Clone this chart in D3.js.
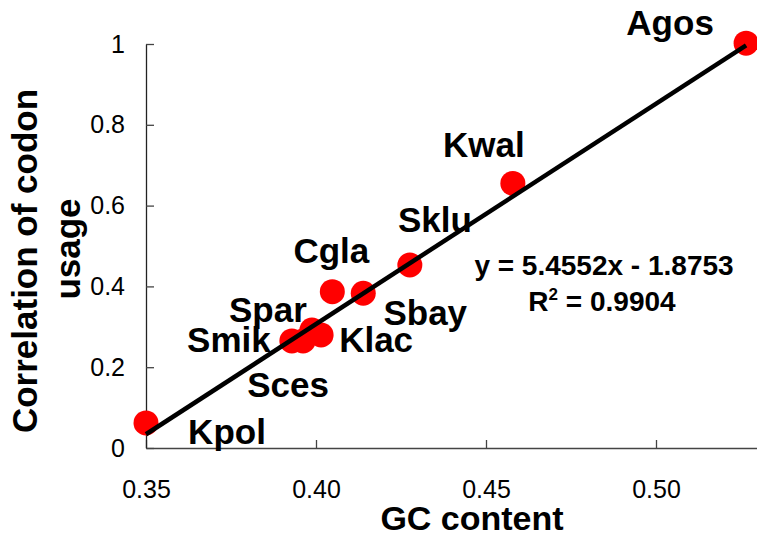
<!DOCTYPE html>
<html>

<head>
  <meta charset="utf-8">
  <title>GC content vs codon usage</title>
  <script src="https://d3js.org/d3.v7.min.js"></script>
  <style>
    body { margin: 0; background: #fff; }
    text { font-family: "Liberation Sans", Arial, sans-serif; }
  </style>
</head>

<body>
  <div id='view'></div>
  <script>
    var width = 757;
    var height = 537;

    // species and values
    var species = ["Agos", "Kwal", "Sklu", "Cgla", "Sbay", "Spar", "Smik", "Klac", "Sces", "Kpol"];
    var gcContent = [0.5265, 0.4579, 0.4276, 0.4048, 0.4139, 0.3988, 0.3929, 0.4015, 0.3962, 0.3500];
    var codonCorr = [1.002, 0.655, 0.453, 0.387, 0.383, 0.292, 0.265, 0.280, 0.265, 0.062];

    var xTicks = [0.35, 0.40, 0.45, 0.50];
    var yTicks = [0, 0.2, 0.4, 0.6, 0.8, 1];

    var slope = 5.4552;
    var intercept = -1.8753;
    var rSquared = "0.9904";

    // label placement relative to each point (pixels)
    var labelDx = [-76, -29, 25, -1, 62, -44, -63, 55, -15, 81];
    var labelDy = [-8, -26, -33, -29, 32, -8, 11, 17, 56, 21];

    var svg = d3.select("#view")
      .append("svg")
      .attr("width", width)
      .attr("height", height);

    var x = d3.scaleLinear().domain([0.35, 0.53]).range([146, 758]);
    var y = d3.scaleLinear().domain([0, 1]).range([448, 44]);

    var xAxis = svg.append("g")
      .attr("transform", "translate(0," + y(0) + ")")
      .call(d3.axisBottom(x).tickValues(xTicks).tickFormat(d3.format(".2f"))
        .tickSizeInner(-8).tickSizeOuter(0).tickPadding(32));
    xAxis.select(".domain").attr("stroke", "#444").attr("stroke-width", 1.3);
    xAxis.selectAll(".tick line").attr("stroke", "#444").attr("stroke-width", 1.3);
    xAxis.selectAll("text").attr("font-size", 25).attr("fill", "#000")
      .style("font-family", "'Liberation Sans', Arial, sans-serif");

    var yAxis = svg.append("g")
      .attr("transform", "translate(" + x(0.35) + ",0)")
      .call(d3.axisLeft(y).tickValues(yTicks).tickFormat(d3.format("~g"))
        .tickSizeInner(-8).tickSizeOuter(0).tickPadding(21));
    yAxis.select(".domain").attr("stroke", "#222").attr("stroke-width", 1.3);
    yAxis.selectAll(".tick line").attr("stroke", "#444").attr("stroke-width", 1.3);
    yAxis.selectAll("text").attr("font-size", 25).attr("fill", "#000")
      .style("font-family", "'Liberation Sans', Arial, sans-serif");

    // points
    svg.selectAll("circle.pt")
      .data(species)
      .enter()
      .append("circle")
      .attr("class", "pt")
      .attr("cx", function (d, i) { return x(gcContent[i]); })
      .attr("cy", function (d, i) { return y(codonCorr[i]); })
      .attr("r", 12.5)
      .attr("fill", "#ff0000");

    // linear trendline over the data range
    var xr = d3.extent(gcContent);
    svg.append("line")
      .attr("x1", x(xr[0]))
      .attr("y1", y(slope * xr[0] + intercept))
      .attr("x2", x(xr[1]))
      .attr("y2", y(slope * xr[1] + intercept))
      .attr("stroke", "#000")
      .attr("stroke-width", 4.5);

    // species labels
    svg.selectAll("text.lab")
      .data(species)
      .enter()
      .append("text")
      .attr("class", "lab")
      .attr("x", function (d, i) { return x(gcContent[i]) + labelDx[i]; })
      .attr("y", function (d, i) { return y(codonCorr[i]) + labelDy[i]; })
      .attr("text-anchor", "middle")
      .attr("font-size", 35)
      .attr("font-weight", "bold")
      .text(function (d) { return d; });

    // equation
    svg.append("text")
      .attr("x", 604).attr("y", 275)
      .attr("text-anchor", "middle")
      .attr("font-size", 28).attr("font-weight", "bold")
      .text("y = " + slope + "x - " + Math.abs(intercept));
    var r2 = svg.append("text")
      .attr("x", 602).attr("y", 311)
      .attr("text-anchor", "middle")
      .attr("font-size", 28).attr("font-weight", "bold");
    r2.append("tspan").text("R");
    r2.append("tspan").attr("font-size", 17).attr("dy", -11).text("2");
    r2.append("tspan").attr("dy", 11).text(" = " + rSquared);

    // axis titles
    svg.append("text")
      .attr("x", 472).attr("y", 530)
      .attr("text-anchor", "middle")
      .attr("font-size", 34).attr("font-weight", "bold")
      .text("GC content");
    svg.append("text")
      .attr("transform", "translate(37,261) rotate(-90)")
      .attr("text-anchor", "middle")
      .attr("font-size", 35).attr("font-weight", "bold")
      .text("Correlation of codon");
    svg.append("text")
      .attr("transform", "translate(80,249) rotate(-90)")
      .attr("text-anchor", "middle")
      .attr("font-size", 35).attr("font-weight", "bold")
      .text("usage");
  </script>
</body>

</html>
